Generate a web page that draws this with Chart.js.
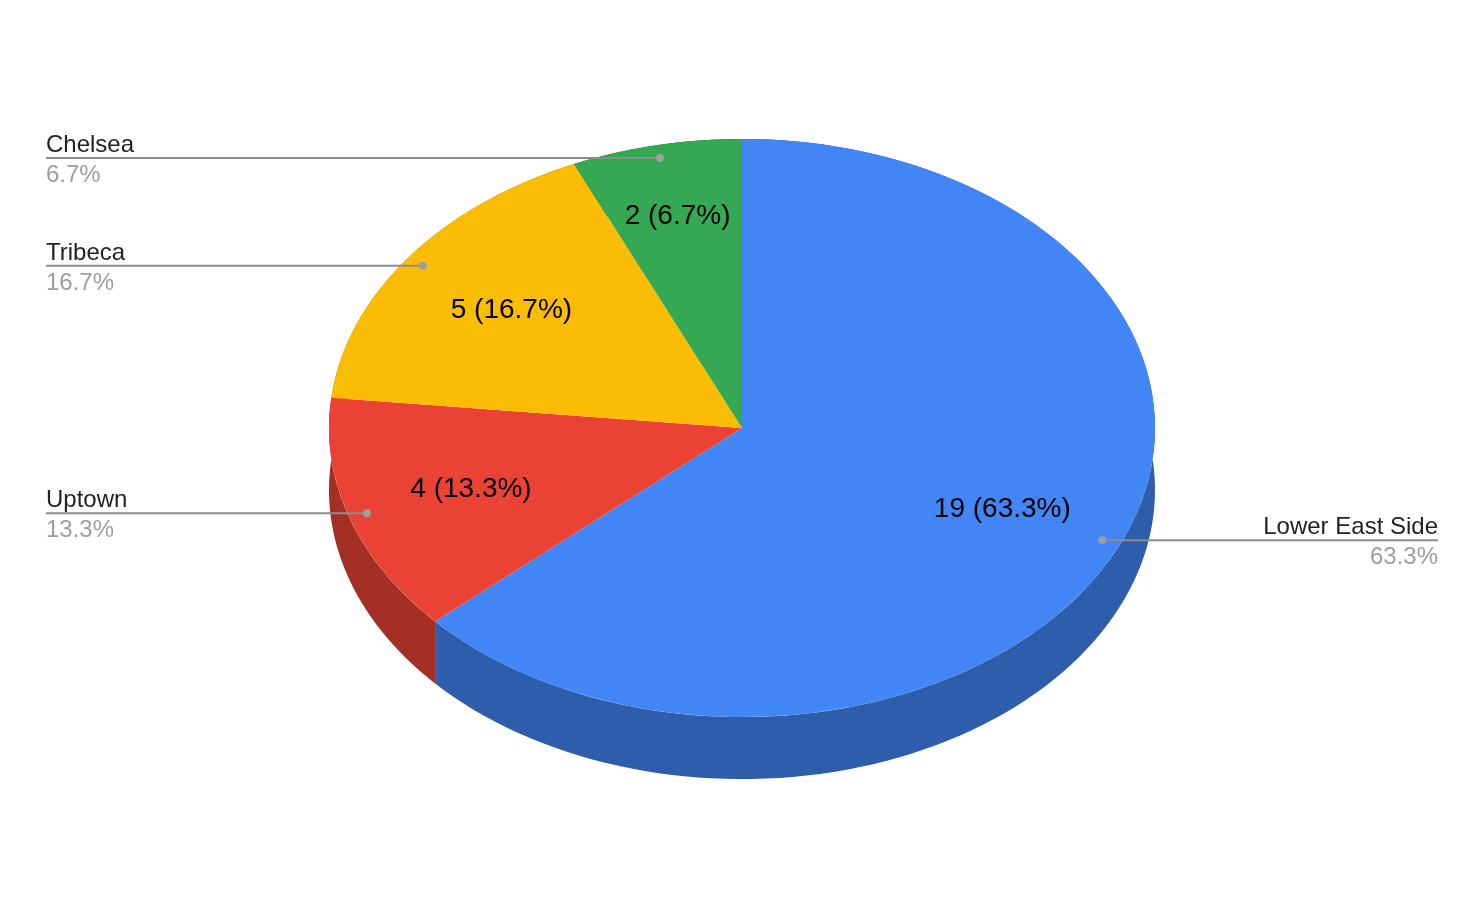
<!DOCTYPE html>
<html>
<head>
<meta charset="utf-8">
<script src="https://cdn.jsdelivr.net/npm/chart.js@4/dist/chart.umd.min.js"></script>
<style>
  html, body { margin: 0; padding: 0; background: #fff; }
  canvas { display: block; }
</style>
</head>
<body>
<canvas id="pieChart" width="1484" height="918"></canvas>
<script>
// data
const bairros = ["Lower East Side", "Uptown", "Tribeca", "Chelsea"];
const valores = [19, 4, 5, 2];
const cores = ["#4285F4", "#EA4335", "#FBBC04", "#34A853"];

const FONTE = '"Liberation Sans", Arial, sans-serif';
const ACHATAMENTO = 0.7; // elipse do topo
const PROFUNDIDADE = 62; // altura da lateral

function escurecer(hex, f) {
  const n = parseInt(hex.slice(1), 16);
  const r = Math.round(((n >> 16) & 255) * f);
  const g = Math.round(((n >> 8) & 255) * f);
  const b = Math.round((n & 255) * f);
  return `rgb(${r}, ${g}, ${b})`;
}

const pie3d = {
  id: "pie3d",
  beforeDatasetsDraw(chart) {
    const ctx = chart.ctx;
    const arcs = chart.getDatasetMeta(0).data;
    const cy = arcs[0].y;

    // lateral: faixa entre a borda do topo e a mesma borda deslocada
    arcs.forEach((arc, i) => {
      const passos = 120;
      const pontos = [];
      for (let s = 0; s <= passos; s++) {
        const a = arc.startAngle + (arc.endAngle - arc.startAngle) * (s / passos);
        pontos.push([
          arc.x + Math.cos(a) * arc.outerRadius,
          cy + Math.sin(a) * arc.outerRadius * ACHATAMENTO,
        ]);
      }
      ctx.beginPath();
      pontos.forEach(([x, y], k) => (k ? ctx.lineTo(x, y) : ctx.moveTo(x, y)));
      for (let k = pontos.length - 1; k >= 0; k--) {
        ctx.lineTo(pontos[k][0], pontos[k][1] + PROFUNDIDADE);
      }
      ctx.closePath();
      ctx.fillStyle = escurecer(cores[i], 0.7);
      ctx.fill();
    });

    // topo achatado
    ctx.save();
    ctx.translate(0, cy);
    ctx.scale(1, ACHATAMENTO);
    ctx.translate(0, -cy);
  },
  afterDatasetsDraw(chart) {
    const ctx = chart.ctx;
    ctx.restore();

    const arcs = chart.getDatasetMeta(0).data;
    const total = valores.reduce((a, b) => a + b, 0);

    arcs.forEach((arc, i) => {
      const meio = (arc.startAngle + arc.endAngle) / 2;
      const pct = valores[i] / total;
      const pctTxt = (pct * 100).toFixed(1) + "%";

      // texto dentro da fatia
      const fr = pct < 0.1 ? 0.75 : 0.69;
      const tx = arc.x + Math.cos(meio) * arc.outerRadius * fr;
      const ty = arc.y + Math.sin(meio) * arc.outerRadius * fr * ACHATAMENTO;
      ctx.fillStyle = "#000";
      ctx.font = `28px ${FONTE}`;
      ctx.textAlign = "center";
      ctx.textBaseline = "middle";
      ctx.fillText(`${valores[i]} (${pctTxt})`, tx, ty);

      // linha guia + rotulo externo
      const px = arc.x + Math.cos(meio) * arc.outerRadius * 0.955;
      const py = arc.y + Math.sin(meio) * arc.outerRadius * 0.955 * ACHATAMENTO;
      const direita = Math.cos(meio) > 0;
      const xFim = direita ? 1438 : 46;

      ctx.strokeStyle = "#8c8c8c";
      ctx.lineWidth = 2;
      ctx.beginPath();
      ctx.moveTo(px, py);
      ctx.lineTo(xFim, py);
      ctx.stroke();

      ctx.fillStyle = "#9e9e9e";
      ctx.beginPath();
      ctx.arc(px, py, 4, 0, Math.PI * 2);
      ctx.fill();

      ctx.textAlign = direita ? "right" : "left";
      ctx.textBaseline = "alphabetic";
      ctx.font = `24px ${FONTE}`;
      ctx.fillStyle = "#222";
      ctx.fillText(bairros[i], xFim, py - 6);
      ctx.fillStyle = "#9e9e9e";
      ctx.fillText(pctTxt, xFim, py + 24);
    });
  },
};

new Chart(document.getElementById("pieChart").getContext("2d"), {
  type: "pie",
  data: {
    labels: bairros,
    datasets: [
      {
        data: valores,
        backgroundColor: cores,
        borderWidth: 0,
        clip: false,
      },
    ],
  },
  options: {
    responsive: false,
    animation: false,
    layout: {
      padding: { left: 329, right: 329, top: 15, bottom: 77 },
    },
    plugins: {
      legend: { display: false },
      tooltip: { enabled: false },
    },
  },
  plugins: [pie3d],
});
</script>
</body>
</html>
